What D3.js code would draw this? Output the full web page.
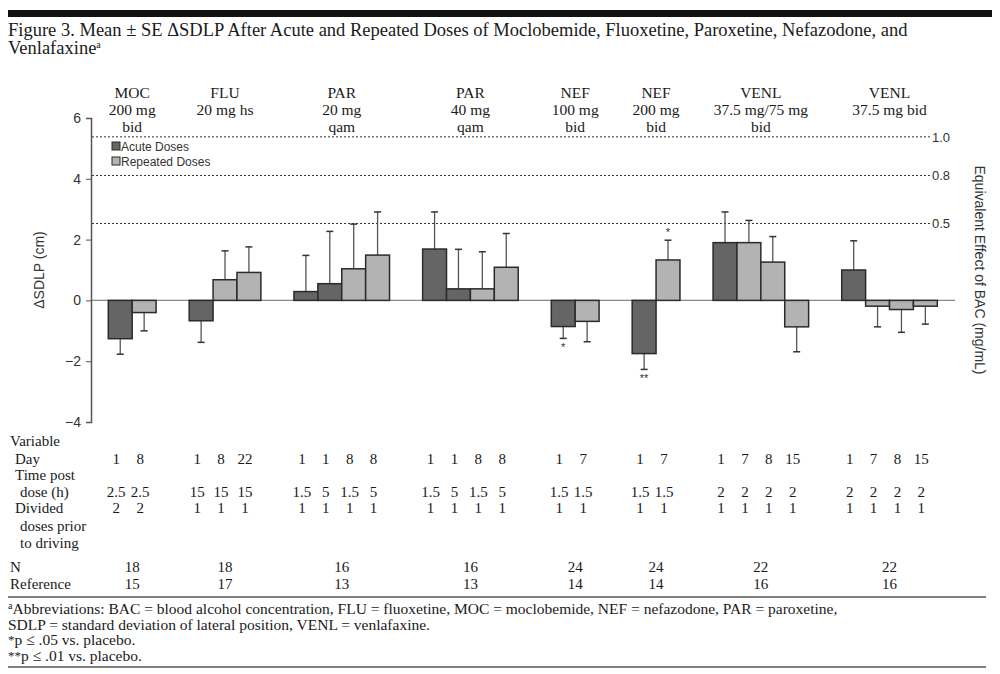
<!DOCTYPE html>
<html>
<head>
<meta charset="utf-8">
<script src="https://cdn.jsdelivr.net/npm/d3@7"></script>
<style>
  body { margin: 0; background: #fff; }
  .serif { font-family: "Liberation Serif", "DejaVu Serif", serif; fill: #1a1a1a; }
  .sans { font-family: "Liberation Sans", Arial, sans-serif; fill: #333; }
</style>
</head>
<body>
<script>
// ---- data ----
var groupHeads = [
    ["MOC", "200 mg", "bid"],
    ["FLU", "20 mg hs"],
    ["PAR", "20 mg", "qam"],
    ["PAR", "40 mg", "qam"],
    ["NEF", "100 mg", "bid"],
    ["NEF", "200 mg", "bid"],
    ["VENL", "37.5 mg/75 mg", "bid"],
    ["VENL", "37.5 mg bid"]
];
// which group each bar belongs to, and dose type (A = acute, R = repeated)
var barGroup = [0,0, 1,1,1, 2,2,2,2, 3,3,3,3, 4,4, 5,5, 6,6,6,6, 7,7,7,7];
var barType  = ["A","R", "A","R","R", "A","A","R","R", "A","A","R","R", "A","R", "A","R", "A","R","R","R", "A","R","R","R"];
var meanSdlp = [-1.26,-0.40, -0.67,0.68,0.92, 0.29,0.55,1.04,1.49, 1.69,0.38,0.38,1.09,
                -0.86,-0.69, -1.75,1.33, 1.90,1.90,1.26,-0.87, 1.00,-0.19,-0.30,-0.19];
var seSdlp   = [0.51,0.60, 0.71,0.95,0.84, 1.19,1.72,1.47,1.42, 1.22,1.30,1.22,1.11,
                0.39,0.67, 0.52,0.65, 1.01,0.73,0.84,0.82, 0.96,0.68,0.75,0.59];
var sigMark  = ["","", "","","", "","","","", "","","","", "*","", "**","*", "","","","", "","","",""];

// table rows, one entry per bar
var dayRow     = ["1","8", "1","8","22", "1","1","8","8", "1","1","8","8", "1","7", "1","7", "1","7","8","15", "1","7","8","15"];
var timeRow    = ["2.5","2.5", "15","15","15", "1.5","5","1.5","5", "1.5","5","1.5","5", "1.5","1.5", "1.5","1.5", "2","2","2","2", "2","2","2","2"];
var dividedRow = ["2","2", "1","1","1", "1","1","1","1", "1","1","1","1", "1","1", "1","1", "1","1","1","1", "1","1","1","1"];
// one entry per group
var nRow   = ["18","18","16","16","24","24","22","22"];
var refRow = ["15","17","13","13","14","14","16","16"];

var yTicks = [6, 4, 2, 0, -2, -4];
var bacLabels = ["1.0", "0.8", "0.5"];
var bacSdlp   = [5.38, 4.11, 2.53];   // ΔSDLP equivalent of each BAC level

var legendItems = [["A", "Acute Doses"], ["R", "Repeated Doses"]];

// ---- layout ----
var w = 1000, h = 674;
var svg = d3.select("body").append("svg")
    .attr("width", w)
    .attr("height", h);

var fillFor = { A: "#656565", R: "#b3b3b3" };
var groupGap = 1.385; // gap between groups, in bar widths

// slot position of each bar (bars within a group touch, groups separated by a gap)
var slot = barGroup.map(function(g, i) { return i + g * groupGap; });
var nSlots = barGroup.length + (groupHeads.length - 1) * groupGap;

var x = d3.scaleLinear().domain([0, nSlots]).range([108.3, 937.3]);
var bw = x(1) - x(0);
var y = d3.scaleLinear().domain([-4, 6]).range([422, 118]);

function barCenter(i) { return x(slot[i] + 0.5); }
function groupCenter(g) {
    var idx = d3.range(barGroup.length).filter(function(i) { return barGroup[i] === g; });
    return (x(slot[idx[0]]) + x(slot[idx[idx.length - 1]] + 1)) / 2;
}

// top black rule
svg.append("rect").attr("x", 8).attr("y", 10).attr("width", 984).attr("height", 7).attr("fill", "#111");

// title
var title = svg.append("text").attr("class", "serif").style("font-size", "18.5px");
title.append("tspan").attr("x", 8).attr("y", 36)
    .text("Figure 3. Mean \u00b1 SE \u0394SDLP After Acute and Repeated Doses of Moclobemide, Fluoxetine, Paroxetine, Nefazodone, and");
title.append("tspan").attr("x", 8).attr("y", 54).text("Venlafaxine");
title.append("tspan").attr("dy", -6).style("font-size", "10px").text("a");

// BAC reference lines
svg.selectAll(".bac").data(bacSdlp).enter().append("line")
    .attr("x1", 92).attr("x2", 930)
    .attr("y1", function(d) { return y(d); }).attr("y2", function(d) { return y(d); })
    .attr("stroke", "#333").attr("stroke-width", 1).attr("stroke-dasharray", "2,2");
svg.selectAll(".bacLab").data(bacLabels).enter().append("text")
    .attr("class", "sans").style("font-size", "13px")
    .attr("x", 932).attr("y", function(d, i) { return y(bacSdlp[i]) + 5; })
    .text(function(d) { return d; });

// zero line
svg.append("line").attr("x1", 91).attr("x2", 955).attr("y1", y(0)).attr("y2", y(0))
    .attr("stroke", "#888").attr("stroke-width", 1.2);

// y axis
var yAxis = d3.axisLeft(y).tickValues(yTicks).tickSize(5).tickFormat(d3.format("d"));
var ax = svg.append("g").attr("transform", "translate(91,0)").call(yAxis);
ax.select(".domain").attr("stroke", "#555").attr("stroke-width", 1.5);
ax.selectAll(".tick line").attr("stroke", "#555");
ax.selectAll(".tick text").attr("class", "sans").style("font-size", "14px").attr("fill", "#333")
    .attr("font-family", null).attr("dx", -2)
    .text(function(d) { return d < 0 ? "\u2212" + Math.abs(d) : d; });

svg.append("text").attr("class", "sans").style("font-size", "14px")
    .attr("transform", "translate(44," + y(1) + ") rotate(-90)")
    .attr("text-anchor", "middle").text("\u0394SDLP (cm)");
svg.append("text").attr("class", "sans").style("font-size", "14px")
    .attr("transform", "translate(975," + y(1) + ") rotate(90)")
    .attr("text-anchor", "middle").text("Equivalent Effect of BAC (mg/mL)");

// error bars (one-sided, away from zero)
var idx = d3.range(meanSdlp.length);
function errEnd(i) { return meanSdlp[i] + (meanSdlp[i] < 0 ? -seSdlp[i] : seSdlp[i]); }
svg.selectAll(".err").data(idx).enter().append("line")
    .attr("x1", barCenter).attr("x2", barCenter)
    .attr("y1", function(i) { return y(meanSdlp[i]); })
    .attr("y2", function(i) { return y(errEnd(i)); })
    .attr("stroke", "#555").attr("stroke-width", 1.3);
svg.selectAll(".cap").data(idx).enter().append("line")
    .attr("x1", function(i) { return barCenter(i) - 3.5; })
    .attr("x2", function(i) { return barCenter(i) + 3.5; })
    .attr("y1", function(i) { return y(errEnd(i)); })
    .attr("y2", function(i) { return y(errEnd(i)); })
    .attr("stroke", "#333").attr("stroke-width", 1.5);

// bars
svg.selectAll(".bar").data(idx).enter().append("rect")
    .attr("x", function(i) { return x(slot[i]); })
    .attr("width", bw)
    .attr("y", function(i) { return y(Math.max(0, meanSdlp[i])); })
    .attr("height", function(i) { return Math.abs(y(meanSdlp[i]) - y(0)); })
    .attr("fill", function(i) { return fillFor[barType[i]]; })
    .attr("stroke", "#2b2b2b").attr("stroke-width", 1.5);

// significance markers
svg.selectAll(".sig").data(idx.filter(function(i) { return sigMark[i]; })).enter().append("text")
    .attr("class", "sans").style("font-size", "11px").attr("text-anchor", "middle")
    .attr("x", barCenter)
    .attr("y", function(i) { return meanSdlp[i] < 0 ? y(errEnd(i)) + 13 : y(errEnd(i)) - 4; })
    .text(function(i) { return sigMark[i]; });

// legend
var leg = svg.selectAll(".leg").data(legendItems).enter().append("g")
    .attr("transform", function(d, i) { return "translate(112," + (142 + i * 15) + ")"; });
leg.append("rect").attr("width", 8).attr("height", 8)
    .attr("fill", function(d) { return fillFor[d[0]]; })
    .attr("stroke", "#2b2b2b").attr("stroke-width", 1);
leg.append("text").attr("class", "sans").style("font-size", "12px")
    .attr("x", 9).attr("y", 8.5).text(function(d) { return d[1]; });

// group headers
var heads = svg.selectAll(".head").data(groupHeads).enter().append("text")
    .attr("class", "serif").style("font-size", "15.5px").attr("text-anchor", "middle");
heads.selectAll("tspan").data(function(d, g) { return d.map(function(s) { return [s, g]; }); })
    .enter().append("tspan")
    .attr("x", function(d) { return groupCenter(d[1]); })
    .attr("y", function(d, j) { return 98 + j * 17; })
    .text(function(d) { return d[0]; });

// table under the chart
var rowLabels = [["Variable", 10, 446], ["Day", 15, 464], ["Time post", 15, 480], ["dose (h)", 20, 497],
                 ["Divided", 15, 513], ["doses prior", 20, 531], ["to driving", 20, 548],
                 ["N", 10, 572], ["Reference", 10, 589]];
svg.selectAll(".rowLab").data(rowLabels).enter().append("text")
    .attr("class", "serif").style("font-size", "15px")
    .attr("x", function(d) { return d[1]; }).attr("y", function(d) { return d[2]; })
    .text(function(d) { return d[0]; });

[[dayRow, 464], [timeRow, 497], [dividedRow, 513]].forEach(function(r) {
    svg.append("g").selectAll("text").data(r[0]).enter().append("text")
        .attr("class", "serif").style("font-size", "15px").attr("text-anchor", "middle")
        .attr("x", function(d, i) { return barCenter(i) - 4; }).attr("y", r[1])
        .text(function(d) { return d; });
});
[[nRow, 572], [refRow, 589]].forEach(function(r) {
    svg.append("g").selectAll("text").data(r[0]).enter().append("text")
        .attr("class", "serif").style("font-size", "15px").attr("text-anchor", "middle")
        .attr("x", function(d, g) { return groupCenter(g); }).attr("y", r[1])
        .text(function(d) { return d; });
});

svg.append("line").attr("x1", 8).attr("x2", 986).attr("y1", 597).attr("y2", 597)
    .attr("stroke", "#555").attr("stroke-width", 1.5);

// footnotes
var notes = [
    ["a", "Abbreviations: BAC = blood alcohol concentration, FLU = fluoxetine, MOC = moclobemide, NEF = nefazodone, PAR = paroxetine,"],
    ["", "SDLP = standard deviation of lateral position, VENL = venlafaxine."],
    ["*", "p \u2264 .05 vs. placebo."],
    ["**", "p \u2264 .01 vs. placebo."]
];
notes.forEach(function(d, i) {
    var t = svg.append("text").attr("class", "serif").style("font-size", "15.5px")
        .attr("x", 8).attr("y", 614 + i * 15.5);
    if (d[0] === "a") {
        t.append("tspan").style("font-size", "10px").attr("dy", -5).text(d[0]);
        t.append("tspan").attr("dy", 5).text(d[1]);
    } else if (d[0]) {
        t.append("tspan").style("font-size", "13px").attr("dy", -1).text(d[0]);
        t.append("tspan").attr("dy", 1).text(d[1]);
    } else {
        t.text(d[1]);
    }
});

svg.append("line").attr("x1", 8).attr("x2", 986).attr("y1", 667).attr("y2", 667)
    .attr("stroke", "#555").attr("stroke-width", 1.5);
</script>
</body>
</html>
